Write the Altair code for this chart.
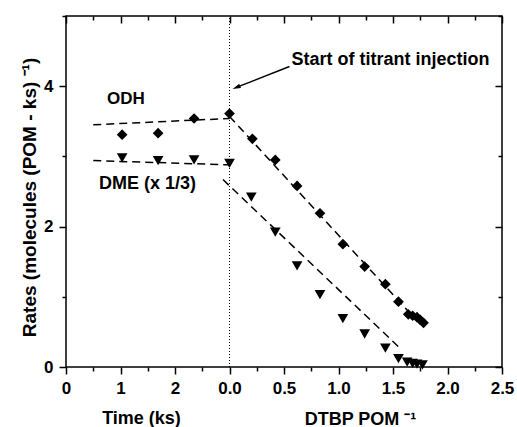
import altair as alt
import pandas as pd

# ---------------- data ----------------
# Time segment (ks) before titration
time_ks = [1.03, 1.69, 2.35]
odh_time = [3.31, 3.33, 3.54]
dme_time = [2.98, 2.94, 2.95]

# Titration segment (DTBP per POM)
dtbp_odh = [0.0, 0.21, 0.42, 0.62, 0.83, 1.04, 1.24, 1.43, 1.55, 1.64, 1.68, 1.72, 1.75, 1.78]
odh_dtbp = [3.61, 3.25, 2.95, 2.58, 2.19, 1.75, 1.43, 1.18, 0.93, 0.75, 0.73, 0.71, 0.67, 0.63]
dtbp_dme = [0.0, 0.20, 0.42, 0.62, 0.83, 1.04, 1.24, 1.43, 1.55, 1.63, 1.68, 1.72, 1.77]
dme_dtbp = [2.90, 2.42, 1.92, 1.44, 1.03, 0.69, 0.47, 0.27, 0.12, 0.07, 0.05, 0.04, 0.03]

# dashed guide lines (end points)
odh_base_t = [0.5, 3.0]
odh_base_v = [3.45, 3.54]
dme_base_t = [0.5, 3.0]
dme_base_v = [2.94, 2.88]
odh_fit_d = [0.0, 1.66]
odh_fit_v = [3.57, 0.76]
dme_fit_d = [-0.06, 1.57]
dme_fit_v = [2.67, 0.26]

# axis tick labels
time_ticks = [0, 1, 2]
dtbp_ticks = [0.0, 0.5, 1.0, 1.5, 2.0, 2.5]
y_major = [0, 2, 4]
y_minor = [1, 3, 5]

# annotations (data coordinates: time ks / DTBP, rate)
injection_dtbp = 0.0
arrow_from = (0.55, 4.28)   # DTBP, rate
arrow_tip = (0.063, 3.983)
notes = ["Start of titrant injection", "ODH", "DME (x 1/3)"]

# ---------------- combined x coordinate ----------------
TIME_END = 3.0      # the time axis occupies 0..3 ks
STRETCH = 2.0       # one DTBP unit = two time units on the page


def from_dtbp(d):
    return TIME_END + STRETCH * d


odh_df = pd.DataFrame({
    "u": time_ks + [from_dtbp(d) for d in dtbp_odh],
    "v": odh_time + odh_dtbp,
})
dme_df = pd.DataFrame({
    "u": time_ks + [from_dtbp(d) for d in dtbp_dme],
    "v": dme_time + dme_dtbp,
})
odh_line_df = pd.DataFrame({
    "seg": ["base", "base", "fit", "fit"],
    "u": odh_base_t + [from_dtbp(d) for d in odh_fit_d],
    "v": odh_base_v + odh_fit_v,
})
dme_line_df = pd.DataFrame({
    "seg": ["base", "base", "fit", "fit"],
    "u": dme_base_t + [from_dtbp(d) for d in dme_fit_d],
    "v": dme_base_v + dme_fit_v,
})
vline_df = pd.DataFrame({"u": [from_dtbp(injection_dtbp)], "v": [0.0], "v2": [5.0]})
arrow_df = pd.DataFrame({
    "u": [from_dtbp(arrow_from[0]), from_dtbp(arrow_tip[0])],
    "v": [arrow_from[1], arrow_tip[1]],
})
head_df = pd.DataFrame({"u": [from_dtbp(arrow_tip[0])], "v": [arrow_tip[1]]})
text_df = pd.DataFrame({
    "label": notes,
    "u": [from_dtbp(1.477), 1.10, 1.495],
    "v": [4.38, 3.82, 2.61],
    "fs": [18, 17, 18],
})

x_major = list(range(0, 9))
x_minor = [i + 0.5 for i in range(8)]
label_expr = ("datum.value < 3 ? format(datum.value, 'd') : "
              "format((datum.value - 3) / 2, '.1f')")

FONT = "Liberation Sans"

common = dict(domain=False, grid=False, tickColor="black", tickWidth=1.5)

ax_bottom_major = alt.Axis(
    orient="bottom", values=x_major, tickSize=7, labelExpr=label_expr,
    labelFont=FONT, labelFontWeight="bold", labelFontSize=17, labelColor="black",
    labelPadding=6, labelFlush=False, labelOverlap=False,
    title="Time (ks)", titleX=75, titleY=56, titleAlign="center", titleAngle=0,
    titleBaseline="alphabetic", titleFont=FONT, titleFontSize=18,
    titleFontWeight="bold", titleColor="black", **common)
ax_bottom_minor = alt.Axis(
    orient="bottom", values=x_minor, tickSize=4, labels=False,
    title="DTBP POM \u207b\u00b9", titleX=294, titleY=57, titleAlign="center",
    titleAngle=0, titleBaseline="alphabetic", titleFont=FONT, titleFontSize=18,
    titleFontWeight="bold", titleColor="black", **common)
ax_top_major = alt.Axis(orient="top", values=x_major, tickSize=7, offset=-7,
                        labels=False, title=None, **common)
ax_top_minor = alt.Axis(orient="top", values=x_minor, tickSize=4, offset=-4,
                        labels=False, title=None, **common)
ax_left_major = alt.Axis(
    orient="left", values=y_major, tickSize=7, labelFont=FONT,
    labelFontWeight="bold", labelFontSize=17, labelColor="black",
    labelPadding=6, labelFlush=False, labelOverlap=False, format="d",
    title=None, **common)
ax_left_minor = alt.Axis(
    orient="left", values=y_minor, tickSize=4, labels=False,
    title="Rates (molecules (POM - ks) \u207b\u00b9)", titleX=-31, titleY=181,
    titleAlign="center", titleAngle=270, titleBaseline="alphabetic",
    titleFont=FONT, titleFontSize=19, titleFontWeight="bold", titleColor="black",
    **common)
ax_right_major = alt.Axis(orient="right", values=y_major, tickSize=7, offset=-7,
                          labels=False, title=None, **common)
ax_right_minor = alt.Axis(orient="right", values=y_minor, tickSize=4, offset=-4,
                          labels=False, title=None, **common)

xs = alt.Scale(domain=[0, 8], nice=False, zero=False)
ys = alt.Scale(domain=[0, 5], nice=False, zero=False)


def X(axis):
    return alt.X("u:Q", scale=xs, axis=axis)


def Y(axis):
    return alt.Y("v:Q", scale=ys, axis=axis)


odh_pts = alt.Chart(odh_df).mark_point(
    shape="diamond", filled=True, size=115, color="black", opacity=1
).encode(x=X(ax_bottom_major), y=Y(ax_left_major))

dme_pts = alt.Chart(dme_df).mark_point(
    shape="triangle-down", filled=True, size=115, color="black", opacity=1
).encode(x=X(ax_bottom_minor), y=Y(ax_left_minor))

odh_lines = alt.Chart(odh_line_df).mark_line(
    color="black", strokeDash=[8, 5], strokeWidth=1.5
).encode(x=X(ax_top_major), y=Y(ax_right_major), detail="seg:N")

dme_lines = alt.Chart(dme_line_df).mark_line(
    color="black", strokeDash=[8, 5], strokeWidth=1.5
).encode(x=X(ax_top_minor), y=Y(ax_right_minor), detail="seg:N")

vline = alt.Chart(vline_df).mark_rule(
    color="black", strokeDash=[1, 2], strokeWidth=1
).encode(x=X(None), y=Y(None), y2="v2:Q")

arrow_line = alt.Chart(arrow_df).mark_line(
    color="black", strokeWidth=1.5
).encode(x=X(None), y=Y(None))

arrow_head = alt.Chart(head_df).mark_point(
    shape="M0,-1L-0.6,1L0.6,1Z", filled=True, size=64, color="black",
    opacity=1, angle=248
).encode(x=X(None), y=Y(None))

texts = alt.Chart(text_df).mark_text(
    font=FONT, fontWeight="bold", color="black", baseline="middle", align="center"
).encode(x=X(None), y=Y(None), text="label:N",
         size=alt.Size("fs:Q", scale=None))

chart = alt.layer(
    odh_pts, dme_pts, odh_lines, dme_lines, vline, arrow_line, arrow_head, texts
).resolve_axis(
    x="independent", y="independent"
).properties(
    width=436, height=351,
    autosize=alt.AutoSizeParams(type="none"),
    padding={"left": 66, "top": 16, "right": 15, "bottom": 60},
    background="white",
).configure_view(stroke="black", strokeWidth=1.5)

chart.save("out.html", embed_options={"renderer": "svg", "actions": False})
